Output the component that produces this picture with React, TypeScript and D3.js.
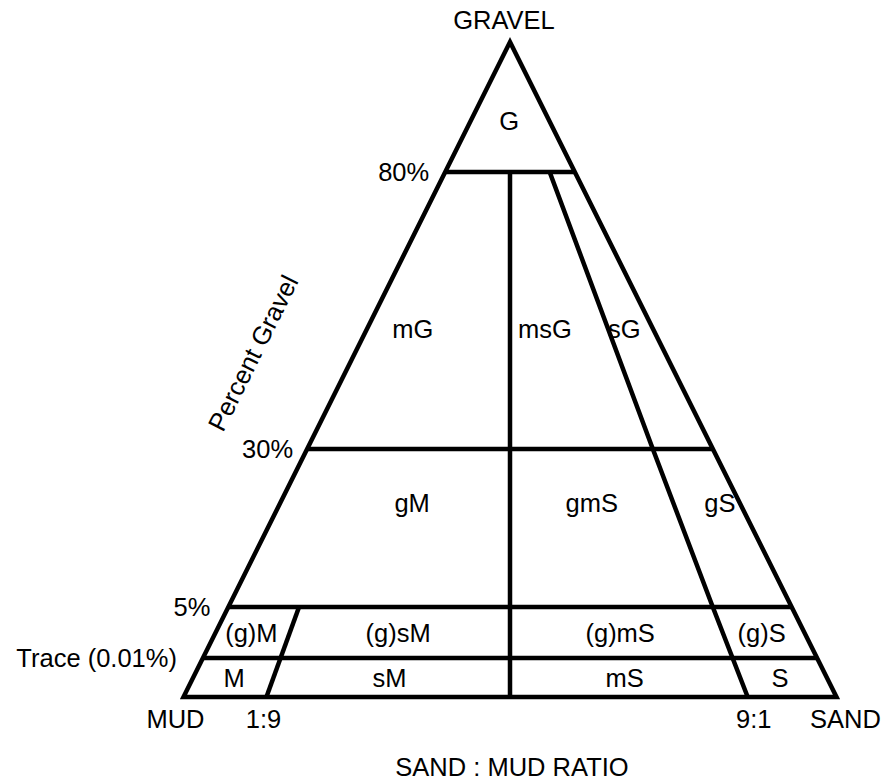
import { line, scaleLinear } from 'd3';

const width = 885;
const height = 782;

// triangle frame (pixels)
const apex = { x: 510, y: 42 };
const baseY = 697;
const halfBase = 326.5;

// gravel axis is not linear: each class boundary gets its own band
const gravelLevels = [0, 0.01, 5, 30, 80, 100];
const gravelLevelY = [697, 658, 607, 449, 172, 42];

// horizontal class boundaries (percent gravel)
const gravelBoundaries = [80, 30, 5, 0.01];
const gravelTickLabels = ['80%', '30%', '5%', 'Trace (0.01%)'];

// sand fraction of the sand+mud part along each boundary
const ratioLines = [
	{ name: '1:9', points: [{ g: 5, r: 0.1255 }, { g: 0, r: 0.127 }] },
	{ name: '1:1', points: [{ g: 80, r: 0.5 }, { g: 0, r: 0.5 }] },
	{
		name: '9:1',
		points: [
			{ g: 80, r: 0.806 },
			{ g: 30, r: 0.852 },
			{ g: 5, r: 0.86 },
			{ g: 0, r: 0.864 },
		],
	},
];

const bottomLabels = ['MUD', '1:9', '9:1', 'SAND'];
const bottomRatios = [0, 0.127, 0.864, 1];
const bottomNudge = [-8, -3, 6, 9];

const classNames = [
	'G', 'mG', 'msG', 'sG', 'gM', 'gmS', 'gS',
	'(g)M', '(g)sM', '(g)mS', '(g)S', 'M', 'sM', 'mS', 'S',
];
const classGravel = [
	87.8, 51.7, 51.7, 51.7, 21.5, 21.5, 21.5,
	2.46, 2.46, 2.46, 2.46, 0.0049, 0.0049, 0.0049, 0.0049,
];
const classRatio = [
	0.49, 0.16, 0.622, 0.9, 0.287, 0.678, 0.957,
	0.061, 0.31, 0.687, 0.927, 0.065, 0.31, 0.681, 0.926,
];

const tickGap = [16, 14, 18, 26];

const yScale = scaleLinear().domain(gravelLevels).range(gravelLevelY);
const halfWidthAt = scaleLinear()
	.domain([apex.y, baseY])
	.range([0, halfBase]);

const toXY = (g: number, r: number): [number, number] => {
	const y = yScale(g);
	const hw = halfWidthAt(y);
	const x = scaleLinear().domain([0, 1]).range([apex.x - hw, apex.x + hw])(r);
	return [x, y];
};

const path = line();

const font = "'Liberation Sans', Arial, sans-serif";
const fontSize = 25.5;
const strokeW = 4.5;

const App = () => {
	const outline = path([toXY(100, 0.5), toXY(0, 1), toXY(0, 0)]) + 'Z';

	return (
		<svg
			width={width}
			height={height}
			style={{ position: 'absolute', left: 0, top: 0, background: '#fff' }}
			fontFamily={font}
			fontSize={fontSize}
		>
			<rect width={width} height={height} fill="#fff" />
			<g fill="none" stroke="#000" strokeWidth={strokeW}>
				{gravelBoundaries.map(g => (
					<path key={g} d={path([toXY(g, 0), toXY(g, 1)]) || ''} />
				))}
				{ratioLines.map(l => (
					<path
						key={l.name}
						d={path(l.points.map(p => toXY(p.g, p.r))) || ''}
					/>
				))}
				<path d={outline} strokeLinejoin="miter" strokeMiterlimit={10} />
			</g>

			<text x={apex.x - 6} y={29} textAnchor="middle">
				GRAVEL
			</text>

			{gravelBoundaries.map((g, i) => {
				const [x, y] = toXY(g, 0);
				return (
					<text key={g} x={x - tickGap[i]} y={y + 9} textAnchor="end">
						{gravelTickLabels[i]}
					</text>
				);
			})}

			{bottomLabels.map((t, i) => {
				const [x] = toXY(0, bottomRatios[i]);
				return (
					<text key={t} x={x + bottomNudge[i]} y={728} textAnchor="middle">
						{t}
					</text>
				);
			})}

			{classNames.map((t, i) => {
				const [x, y] = toXY(classGravel[i], classRatio[i]);
				return (
					<text
						key={t}
						x={x}
						y={y}
						textAnchor="middle"
						dominantBaseline="central"
					>
						{t}
					</text>
				);
			})}

			<text
				transform="translate(261,357) rotate(-63.5)"
				textAnchor="middle"
			>
				Percent Gravel
			</text>

			<text x={512} y={776} textAnchor="middle">
				SAND : MUD RATIO
			</text>
		</svg>
	);
};

export default App;
